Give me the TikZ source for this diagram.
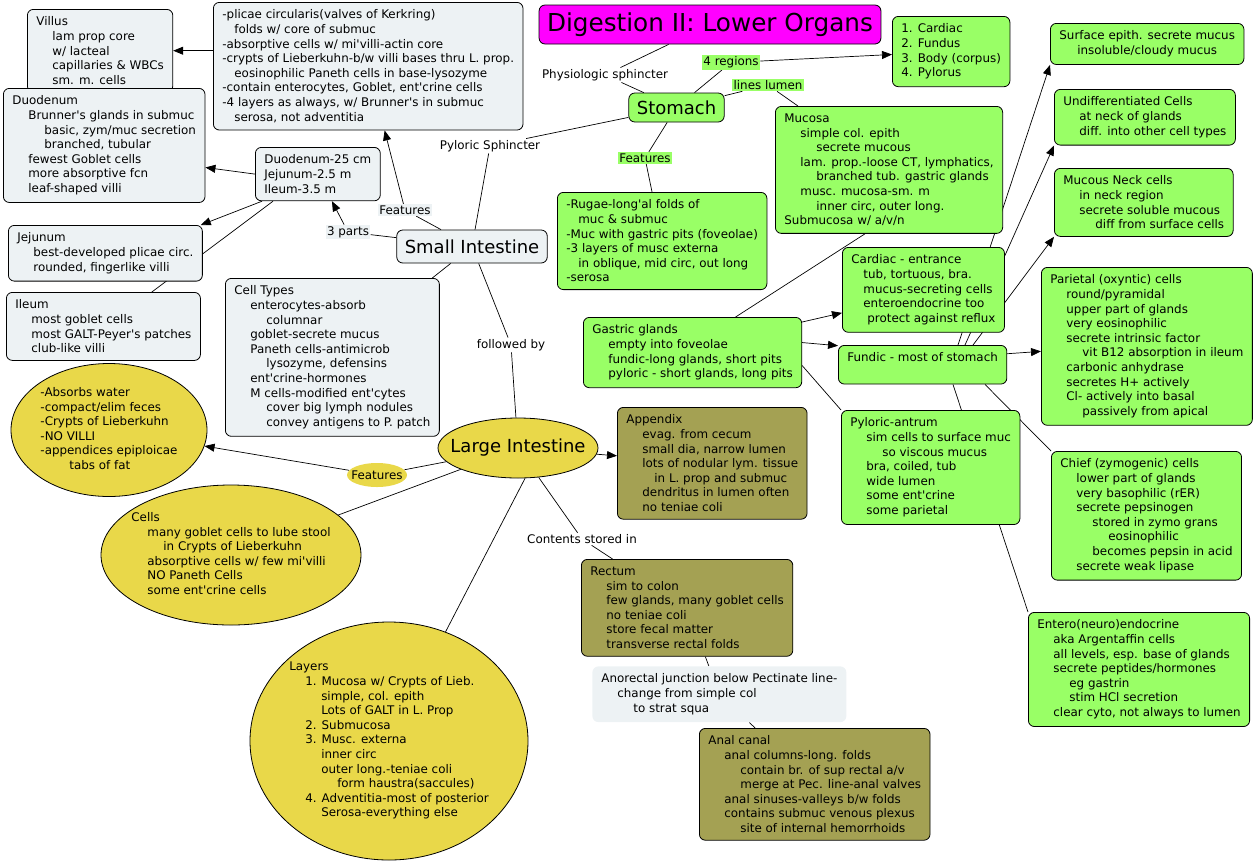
\documentclass[tikz,border=0pt]{standalone}
\usepackage{fontspec}
\setmainfont{DejaVu Sans}
\usetikzlibrary{shapes.geometric,backgrounds,arrows.meta}

\definecolor{cmblue}{HTML}{EDF2F4}
\definecolor{cmgreen}{HTML}{99FF66}
\definecolor{cmyellow}{HTML}{E9D849}
\definecolor{cmolive}{HTML}{A4A153}
\definecolor{cmpink}{HTML}{FF00FF}

\newcommand{\tb}{\hspace*{16pt}}
\newcommand{\ts}{\hspace*{12pt}}
\newcommand{\ap}{\textquotesingle}

\begin{document}
\begin{tikzpicture}[x=1pt, y=-1pt, font=\fontsize{11.9}{14.6}\selectfont,
    sibox/.style={draw, line width=0.8pt, rounded corners=6pt, fill=cmblue, align=left, anchor=north west, inner xsep=9pt, inner ysep=7.5pt},
    stbox/.style={sibox, fill=cmgreen},
    libox/.style={sibox, fill=cmolive},
    liell/.style={ellipse, draw, line width=0.8pt, fill=cmyellow, inner sep=0pt},
    organ/.style={draw, line width=0.8pt, rounded corners=6pt, font=\fontsize{18}{22}\selectfont, inner xsep=8pt},
    lbl/.style={fill=white, inner sep=1.5pt},
    link/.style={line width=0.7pt},
    arr/.style={link, -{Triangle[length=10pt,width=8pt]}}]
    \useasboundingbox (0,0) rectangle (1255,863);

    % small intestine
    \node[sibox] (villus) at (27,9) {Villus\\\tb lam prop core\\\tb w/ lacteal\\\tb capillaries \& WBCs\\\tb sm. m. cells};
    \node[sibox] (duo) at (3,88) {Duodenum\\\tb Brunner\ap s glands in submuc\\\tb\tb basic, zym/muc secretion\\\tb\tb branched, tubular\\\tb fewest Goblet cells\\\tb more absorptive fcn\\\tb leaf-shaped villi};
    \node[sibox] (plicae) at (213,2) {-plicae circularis(valves of Kerkring)\\\ts folds w/ core of submuc\\-absorptive cells w/ mi\ap villi-actin core\\-crypts of Lieberkuhn-b/w villi bases thru L. prop.\\\ts eosinophilic Paneth cells in base-lysozyme\\-contain enterocytes, Goblet, ent\ap crine cells\\-4 layers as always, w/ Brunner\ap s in submuc\\\ts serosa, not adventitia};
    \node[sibox] (dur) at (255,147) {Duodenum-25 cm\\Jejunum-2.5 m\\Ileum-3.5 m};
    \node[sibox] (jej) at (8,225) {Jejunum\\\tb best-developed plicae circ.\\\tb rounded, fingerlike villi};
    \node[sibox] (ileum) at (6,292) {Ileum\\\tb most goblet cells\\\tb most GALT-Peyer\ap s patches\\\tb club-like villi};
    \node[sibox] (celltypes) at (225,278) {Cell Types\\\tb enterocytes-absorb\\\tb\tb columnar\\\tb goblet-secrete mucus\\\tb Paneth cells-antimicrob\\\tb\tb lysozyme, defensins\\\tb ent\ap crine-hormones\\\tb M cells-modified ent\ap cytes\\\tb\tb cover big lymph nodules\\\tb\tb convey antigens to P. patch};
    \node[organ, fill=cmblue, minimum height=33pt] (si) at (472,246.5) {Small Intestine};

    % stomach
    \node[organ, fill=cmpink, font=\fontsize{24.7}{30}\selectfont, minimum height=39pt] (title) at (710,24.5) {Digestion II: Lower Organs};
    \node[organ, fill=cmgreen, minimum height=29pt] (stomach) at (676.5,107.5) {Stomach};
    \node[stbox] (regions) at (892,16) {1. Cardiac\\2. Fundus\\3. Body (corpus)\\4. Pylorus};
    \node[stbox] (mucosa) at (775,106) {Mucosa\\\tb simple col. epith\\\tb\tb secrete mucous\\\tb lam. prop.-loose CT, lymphatics,\\\tb\tb branched tub. gastric glands\\\tb musc. mucosa-sm. m\\\tb\tb inner circ, outer long.\\Submucosa w/ a/v/n};
    \node[stbox] (rugae) at (557,192) {-Rugae-long\ap al folds of\\\ts muc \& submuc\\-Muc with gastric pits (foveolae)\\-3 layers of musc externa\\\ts in oblique, mid circ, out long\\-serosa};
    \node[stbox] (glands) at (583,317) {Gastric glands\\\tb empty into foveolae\\\tb fundic-long glands, short pits\\\tb pyloric - short glands, long pits};
    \node[stbox] (cardiac) at (842,247) {Cardiac - entrance\\\ts tub, tortuous, bra.\\\ts mucus-secreting cells\\\ts enteroendocrine too\\\tb protect against reflux};
    \node[stbox] (fundic) at (838,345) {Fundic - most of stomach\\\mbox{}};
    \node[stbox] (parietal) at (1041,267) {Parietal (oxyntic) cells\\\tb round/pyramidal\\\tb upper part of glands\\\tb very eosinophilic\\\tb secrete intrinsic factor\\\tb\tb vit B12 absorption in ileum\\\tb carbonic anhydrase\\\tb secretes H+ actively\\\tb Cl- actively into basal\\\tb\tb passively from apical};
    \node[stbox] (pyloric) at (841,410) {Pyloric-antrum\\\tb sim cells to surface muc\\\tb\tb so viscous mucus\\\tb bra, coiled, tub\\\tb wide lumen\\\tb some ent\ap crine\\\tb some parietal};
    \node[stbox] (chief) at (1051,451) {Chief (zymogenic) cells\\\tb lower part of glands\\\tb very basophilic (rER)\\\tb secrete pepsinogen\\\tb\tb stored in zymo grans\\\tb\tb\tb eosinophilic\\\tb\tb becomes pepsin in acid\\\tb secrete weak lipase};
    \node[stbox] (entero) at (1028,612) {Entero(neuro)endocrine\\\tb aka Argentaffin cells\\\tb all levels, esp. base of glands\\\tb secrete peptides/hormones\\\tb\tb eg gastrin\\\tb\tb stim HCl secretion\\\tb clear cyto, not always to lumen};
    \node[stbox, align=center] (surface) at (1050,23) {Surface epith. secrete mucus\\insoluble/cloudy mucus};
    \node[stbox] (undiff) at (1054,89) {Undifferentiated Cells\\\tb at neck of glands\\\tb diff. into other cell types};
    \node[stbox] (mucneck) at (1054,168) {Mucous Neck cells\\\tb in neck region\\\tb secrete soluble mucous\\\tb\tb diff from surface cells};

    % large intestine
    \node[liell, minimum width=160pt, minimum height=60pt, font=\fontsize{18}{22}\selectfont] (li) at (518,448) {\makebox[0pt]{Large Intestine}};
    \node[liell, minimum width=196pt, minimum height=133pt] (lifeat) at (109,430) {\makebox[0pt]{\begin{tabular}{@{}l@{}}-Absorbs water\\-compact/elim feces\\-Crypts of Lieberkuhn\\-NO VILLI\\-appendices epiploicae\\\hspace*{29pt}tabs of fat\end{tabular}}};
    \node[liell, minimum width=260pt, minimum height=140pt] (cells) at (231,555) {\makebox[0pt]{\begin{tabular}{@{}l@{}}Cells\\\tb many goblet cells to lube stool\\\tb\tb in Crypts of Lieberkuhn\\\tb absorptive cells w/ few mi\ap villi\\\tb NO Paneth Cells\\\tb some ent\ap crine cells\end{tabular}}};
    \node[liell, minimum width=278pt, minimum height=238pt] (layers) at (389,741) {\makebox[0pt]{\begin{tabular}{@{}l@{}}Layers\\\tb 1. Mucosa w/ Crypts of Lieb.\\\tb\tb simple, col. epith\\\tb\tb Lots of GALT in L. Prop\\\tb 2. Submucosa\\\tb 3. Musc. externa\\\tb\tb inner circ\\\tb\tb outer long.-teniae coli\\\tb\tb\tb form haustra(saccules)\\\tb 4. Adventitia-most of posterior\\\tb\tb Serosa-everything else\end{tabular}}};
    \node[libox] (appendix) at (617,407) {Appendix\\\tb evag. from cecum\\\tb small dia, narrow lumen\\\tb lots of nodular lym. tissue\\\hspace*{28pt}in L. prop and submuc\\\tb dendritus in lumen often\\\tb no teniae coli};
    \node[libox] (rectum) at (581,559) {Rectum\\\tb sim to colon\\\tb few glands, many goblet cells\\\tb no teniae coli\\\tb store fecal matter\\\tb transverse rectal folds};
    \node[sibox, draw=none] (anorectal) at (592,666) {Anorectal junction below Pectinate line-\\\tb change from simple col\\\tb\tb to strat squa};
    \node[libox] (anal) at (699,728) {Anal canal\\\tb anal columns-long. folds\\\tb\tb contain br. of sup rectal a/v\\\tb\tb merge at Pec. line-anal valves\\\tb anal sinuses-valleys b/w folds\\\tb contains submuc venous plexus\\\tb\tb site of internal hemorrhoids};

    % linking words
    \node[lbl] (phys) at (605,75) {Physiologic sphincter};
    \node[lbl, fill=cmgreen] (regions4) at (731,62.5) {4 regions};
    \node[lbl, fill=cmgreen] (lumen) at (768,85) {lines lumen};
    \node[lbl] (pyl) at (490,146) {Pyloric Sphincter};
    \node[lbl, fill=cmgreen] (stfeat) at (645,158) {Features};
    \node[lbl, fill=cmblue] (sifeat) at (405,210) {Features};
    \node[lbl, fill=cmblue] (parts) at (348,232) {3 parts};
    \node[lbl] (followed) at (511,345) {followed by};
    \node[liell, draw=none, minimum width=60pt, minimum height=24pt] (lifeatlbl) at (377,475) {\makebox[0pt]{Features}};
    \node[lbl] (contents) at (582,539) {Contents stored in};

    \begin{pgfonlayer}{background}
    \draw[link] (title) -- (phys);
    \draw[link] (phys) -- (stomach);
    \draw[link] (stomach) -- (regions4);
    \draw[arr] (regions4) -- (regions);
    \draw[link] (stomach) -- (lumen);
    \draw[link] (lumen) -- (mucosa);
    \draw[link] (stomach) -- (pyl);
    \draw[link] (pyl) -- (si);
    \draw[link] (stomach) -- (stfeat);
    \draw[link] (stfeat) -- (rugae);
    \draw[link] (si) -- (sifeat);
    \draw[arr] (sifeat) -- (plicae);
    \draw[link] (si) -- (parts);
    \draw[arr] (parts) -- (dur);
    \draw[arr] (plicae.west |- villus.east) -- (villus.east);
    \draw[arr] (dur.west) -- ([yshift=-22pt]duo.east);
    \draw[arr] ([xshift=7pt]dur.south west) -- ([xshift=-2pt]jej.north east);
    \draw[link] ([xshift=18pt]dur.south west) -- ([xshift=-49pt]ileum.north east);
    \draw[link] (si) -- (celltypes);
    \draw[link] (si) -- (followed);
    \draw[link] (followed) -- (li);
    \draw[link] (li) -- (lifeatlbl);
    \draw[arr] (lifeatlbl) -- (lifeat);
    \draw[link] (li) -- (cells);
    \draw[link] ([xshift=7pt]li.south) -- (layers);
    \draw[arr] (li) -- (appendix);
    \draw[link] (li) -- (contents);
    \draw[link] (contents) -- (rectum);
    \draw[link] (rectum) -- (anorectal);
    \draw[link] (anorectal) -- (anal);
    \draw[link] ([xshift=-24pt]mucosa.south) -- ([xshift=43pt]glands.north);
    \draw[arr] ([yshift=-5pt]glands.north east) -- ([yshift=-23pt]cardiac.west);
    \draw[arr] ([yshift=10pt]glands.east) -- ([yshift=19pt]fundic.west);
    \draw[link] ([yshift=-13pt]glands.east) -- (pyloric.north west);
    \draw[arr] ([xshift=120pt]fundic.north west) -- (surface.south west);
    \draw[arr] ([xshift=127pt]fundic.north west) -- (undiff.south west);
    \draw[arr] ([xshift=135pt]fundic.north west) -- (mucneck.south west);
    \draw[arr] ([yshift=11pt]fundic.east) -- ([yshift=-5pt]parietal.west);
    \draw[link] ([xshift=147pt]fundic.south west) -- (chief.north west);
    \draw[link] ([xshift=115pt]fundic.south west) -- (entero.north west);
    \end{pgfonlayer}
\end{tikzpicture}
\end{document}
